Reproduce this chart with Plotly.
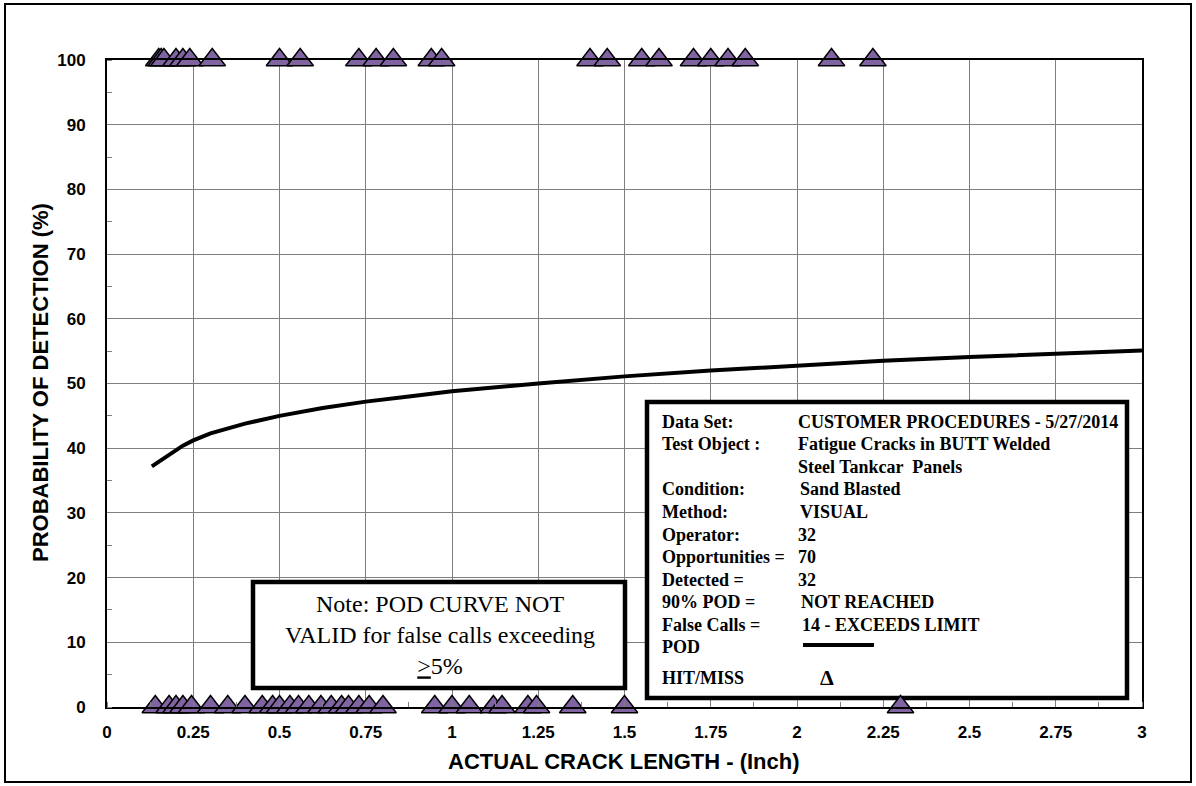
import plotly.graph_objects as go

# Crack lengths (inch) of detected flaws, plotted at 100 %
hit_lengths = [0.15, 0.157, 0.165, 0.20, 0.22, 0.24, 0.305, 0.50, 0.56, 0.73, 0.78, 0.83,
               0.94, 0.97, 1.40, 1.45, 1.55, 1.60, 1.70, 1.75, 1.80, 1.85, 2.10, 2.22]

# Crack lengths (inch) of missed flaws, plotted at 0 %
miss_lengths = [0.14, 0.18, 0.20, 0.22, 0.245, 0.30, 0.35, 0.40, 0.45, 0.48, 0.50, 0.53,
                0.555, 0.585, 0.62, 0.65, 0.68, 0.70, 0.73, 0.76, 0.80, 0.95, 1.00, 1.05,
                1.12, 1.145, 1.22, 1.245, 1.35, 1.50, 2.30]

# Fitted POD curve
pod_length = [0.13, 0.18, 0.22, 0.25, 0.30, 0.40, 0.50, 0.625, 0.75, 0.875, 1.0, 1.25,
              1.5, 1.75, 2.0, 2.25, 2.5, 2.75, 3.0]
pod_percent = [37.2, 39.0, 40.4, 41.2, 42.3, 43.8, 45.0, 46.2, 47.2, 48.0, 48.8, 50.0,
               51.1, 52.0, 52.8, 53.5, 54.1, 54.6, 55.1]

x_tick_vals = [0, 0.25, 0.5, 0.75, 1, 1.25, 1.5, 1.75, 2, 2.25, 2.5, 2.75, 3]
x_tick_text = ["0", "0.25", "0.5", "0.75", "1", "1.25", "1.5", "1.75", "2", "2.25", "2.5", "2.75", "3"]
y_tick_vals = [0, 10, 20, 30, 40, 50, 60, 70, 80, 90, 100]
y_tick_text = ["0", "10", "20", "30", "40", "50", "60", "70", "80", "90", "100"]

info_labels = ["Data Set:", "Test Object :", "", "Condition:", "Method:", "Operator:",
               "Opportunities =", "Detected =", "90% POD =", "False Calls =", "POD", "HIT/MISS"]
info_values = ["CUSTOMER PROCEDURES - 5/27/2014", "Fatigue Cracks in BUTT Welded",
               "Steel Tankcar  Panels", "Sand Blasted", "VISUAL", "32", "70", "32",
               "NOT REACHED", "14 - EXCEEDS LIMIT", "", "\u0394"]

note_text = "Note: POD CURVE NOT<br>VALID for false calls exceeding<br><u>&#62;</u>5%"

# Page geometry (pixels)
W, H = 1196, 786
PL, PR, PT, PB = 107, 1142, 60, 707
X_MAX, Y_MAX = 3.0, 100.0


def dx(px):
    return (px - PL) / (PR - PL) * X_MAX


def dy(py):
    return (PB - py) / (PB - PT) * Y_MAX


def paper_x(px):
    return (px - PL) / (PR - PL)


def paper_y(py):
    return (PB - py) / (PB - PT)


PURPLE = "#8064A2"
SANS = "Liberation Sans, Arial, sans-serif"
SERIF = "Liberation Serif, Times New Roman, serif"

fig = go.Figure()

fig.add_trace(go.Scatter(
    x=pod_length, y=pod_percent, mode="lines",
    line=dict(color="black", width=4), hoverinfo="skip", showlegend=False,
))

marker_style = dict(symbol="triangle-up", size=23, color=PURPLE,
                    line=dict(color="black", width=1.5))

fig.add_trace(go.Scatter(
    x=hit_lengths, y=[100] * len(hit_lengths), mode="markers",
    marker=marker_style, cliponaxis=False, showlegend=False,
))
fig.add_trace(go.Scatter(
    x=miss_lengths, y=[0] * len(miss_lengths), mode="markers",
    marker=marker_style, cliponaxis=False, showlegend=False,
))

shapes = [
    # outer frame around the whole figure
    dict(type="rect", xref="paper", yref="paper",
         x0=paper_x(5), x1=paper_x(1191), y0=paper_y(782), y1=paper_y(4),
         line=dict(color="black", width=2), fillcolor="rgba(0,0,0,0)", layer="above"),
    # information box
    dict(type="rect", x0=dx(647), x1=dx(1127), y0=dy(698), y1=dy(402),
         line=dict(color="black", width=4.5), fillcolor="white", layer="between"),
    # note box
    dict(type="rect", x0=dx(253), x1=dx(625), y0=dy(688), y1=dy(582),
         line=dict(color="black", width=4.5), fillcolor="white", layer="between"),
    # POD legend sample line
    dict(type="line", x0=dx(803), x1=dx(874), y0=dy(645), y1=dy(645),
         line=dict(color="black", width=4), layer="above"),
]

annotations = []
row_y = [421.7, 444.3, 466.7, 489.3, 512, 534.7, 557.3, 580, 602.3, 625, 646.7, 677.7]
value_x = [796, 796, 796, 798, 798, 796, 796, 796, 799, 800, 796, 818]
for label, value, py, vx in zip(info_labels, info_values, row_y, value_x):
    if label:
        annotations.append(dict(
            x=dx(660), y=dy(py), text=label, showarrow=False,
            xanchor="left", yanchor="middle",
            font=dict(family=SERIF, size=18, color="black", weight="bold"),
        ))
    if value:
        is_delta = value == "\u0394"
        annotations.append(dict(
            x=dx(vx), y=dy(py), text=value, showarrow=False,
            xanchor="left", yanchor="middle",
            font=dict(family=SERIF, size=22 if is_delta else 18, color="black", weight="bold"),
        ))

annotations.append(dict(
    x=dx(440), y=dy(635), text=note_text, showarrow=False,
    xanchor="center", yanchor="middle", align="center",
    font=dict(family=SERIF, size=24, color="black"),
))

# axis titles
annotations.append(dict(
    xref="paper", yref="paper", x=paper_x(624), y=paper_y(761),
    text="ACTUAL CRACK LENGTH - (Inch)", showarrow=False,
    xanchor="center", yanchor="middle",
    font=dict(family=SANS, size=22, color="black", weight="bold"),
))
annotations.append(dict(
    xref="paper", yref="paper", x=paper_x(40), y=paper_y(383),
    text="PROBABILITY OF DETECTION (%)", showarrow=False, textangle=-90,
    xanchor="center", yanchor="middle",
    font=dict(family=SANS, size=22, color="black", weight="bold"),
))

fig.update_layout(
    width=W, height=H, autosize=False,
    margin=dict(l=PL, r=W - PR, t=PT, b=H - PB, pad=0),
    paper_bgcolor="white", plot_bgcolor="white",
    shapes=shapes, annotations=annotations,
    xaxis=dict(
        range=[0, X_MAX], tickvals=x_tick_vals, ticktext=x_tick_text,
        showgrid=True, gridcolor="#7f7f7f", gridwidth=1,
        showline=True, linecolor="black", linewidth=2, mirror=True,
        ticks="", ticklabelstandoff=9,
        minor=dict(dtick=0.125, tick0=0, ticks="inside", ticklen=5,
                   tickcolor="#7f7f7f", tickwidth=1, showgrid=False),
        tickfont=dict(family=SANS, size=17, color="black", weight="bold"),
        zeroline=False, fixedrange=True,
    ),
    yaxis=dict(
        range=[0, Y_MAX], tickvals=y_tick_vals, ticktext=y_tick_text,
        showgrid=True, gridcolor="#7f7f7f", gridwidth=1,
        showline=True, linecolor="black", linewidth=2, mirror=True,
        ticks="", ticklabelstandoff=16,
        minor=dict(dtick=5, tick0=0, ticks="inside", ticklen=5,
                   tickcolor="#7f7f7f", tickwidth=1, showgrid=False),
        tickfont=dict(family=SANS, size=17, color="black", weight="bold"),
        zeroline=False, fixedrange=True,
    ),
)

fig.write_html("out.html")
